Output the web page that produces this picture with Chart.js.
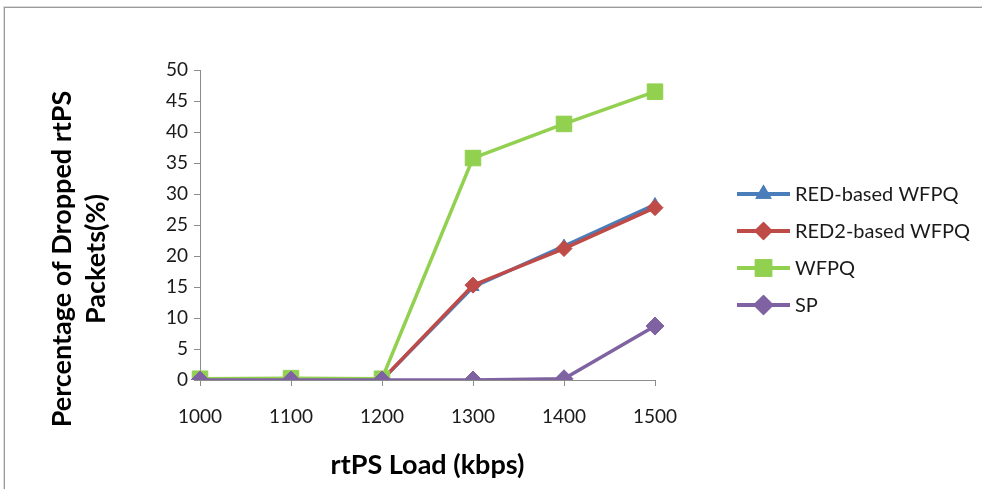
<!DOCTYPE html>
<html>
<head>
<meta charset="utf-8">
<script src="https://cdn.jsdelivr.net/npm/chart.js@4.4.1/dist/chart.umd.min.js"></script>
<style>
  html, body { margin: 0; padding: 0; background: #fff; }
  #wrap { position: relative; width: 982px; height: 489px; overflow: hidden; }
  #frame { position: absolute; left: 4px; top: 7px; width: 990px; height: 500px;
           border: 1px solid #9a9a9a; box-shadow: 0 0 0 1px #dcdcdc; }
  canvas { position: absolute; left: 0; top: 0; }
</style>
</head>
<body>
<div id="wrap">
  <div id="frame"></div>
  <canvas id="chart" width="982" height="489"></canvas>
</div>
<script>
const loads = ["1000", "1100", "1200", "1300", "1400", "1500"];
const redWfpq = [0, 0, 0, 15.0, 21.6, 28.3];
const red2Wfpq = [0, 0, 0, 15.3, 21.2, 27.8];
const wfpq = [0.2, 0.3, 0.2, 35.8, 41.3, 46.5];
const sp = [0, 0, 0, 0, 0.2, 8.7];
const yTicks = [0, 5, 10, 15, 20, 25, 30, 35, 40, 45, 50];

const FONT = "Lato, 'Open Sans', sans-serif";
const AXIS = "#8c8c8c";

// legend drawn to the right, line sample + marker like Excel
const sideLegend = {
  id: "sideLegend",
  afterDraw(chart) {
    const ctx = chart.ctx;
    const x0 = 737, x1 = 790;
    let y = 194;
    chart.data.datasets.forEach((ds) => {
      ctx.save();
      ctx.strokeStyle = ds.borderColor;
      ctx.lineWidth = 4;
      ctx.beginPath();
      ctx.moveTo(x0, y);
      ctx.lineTo(x1, y);
      ctx.stroke();
      Chart.helpers.drawPoint(ctx, {
        pointStyle: ds.pointStyle,
        radius: ds.pointRadius - 1.5,
        borderWidth: 1,
        rotation: 0,
      }, (x0 + x1) / 2, y);
      ctx.fillStyle = ds.borderColor;
      ctx.strokeStyle = ds.borderColor;
      ctx.fill();
      ctx.stroke();
      ctx.fillStyle = "#1a1a1a";
      ctx.font = "20px " + FONT;
      ctx.textBaseline = "middle";
      ctx.textAlign = "left";
      ctx.fillText(ds.label, x1 + 5, y + 1);
      ctx.restore();
      y += 37;
    });
  },
};

// y axis title (two lines, rotated)
const yTitle = {
  id: "yTitle",
  afterDraw(chart) {
    const ctx = chart.ctx;
    ctx.save();
    ctx.font = "bold 27px " + FONT;
    ctx.fillStyle = "#000";
    ctx.textAlign = "center";
    ctx.textBaseline = "middle";
    ctx.translate(62, 259);
    ctx.rotate(-Math.PI / 2);
    ctx.fillText("Percentage of Dropped rtPS", 0, 0);
    ctx.fillText("Packets(%)", 0, 34);
    ctx.restore();
  },
};

function series(label, data, color, style, radius, order) {
  return {
    label: label,
    data: data,
    borderColor: color,
    backgroundColor: color,
    pointBackgroundColor: color,
    pointBorderColor: color,
    pointStyle: style,
    pointRadius: radius,
    pointBorderWidth: 1,
    borderWidth: 3.5,
    tension: 0,
    order: order,
  };
}

new Chart(document.getElementById("chart"), {
  type: "line",
  data: {
    labels: loads,
    datasets: [
      series("RED-based WFPQ", redWfpq, "#4a7ebb", "triangle", 7, 4),
      series("RED2-based WFPQ", red2Wfpq, "#be4b48", "rectRot", 8, 3),
      series("WFPQ", wfpq, "#92d050", "rect", 11, 2),
      series("SP", sp, "#7f62a1", "rectRot", 9, 1),
    ],
  },
  options: {
    responsive: false,
    animation: false,
    layout: { padding: { top: 70, right: 327, left: 0, bottom: 0 } },
    plugins: { legend: { display: false }, tooltip: { enabled: false } },
    scales: {
      x: {
        offset: false,
        grid: { drawOnChartArea: false, drawTicks: true, tickLength: 6, color: AXIS },
        border: { color: AXIS, width: 1 },
        ticks: { color: "#1a1a1a", font: { family: FONT, size: 19 }, padding: 19, maxRotation: 0 },
        title: {
          display: true,
          text: "rtPS Load (kbps)",
          color: "#000",
          font: { family: FONT, size: 27, weight: "bold" },
          padding: { top: 8, bottom: 8 },
        },
        afterFit(scale) { scale.height = 109; },
      },
      y: {
        min: 0,
        max: 50,
        grid: { drawOnChartArea: false, drawTicks: true, tickLength: 6, color: AXIS },
        border: { color: AXIS, width: 1 },
        afterBuildTicks(scale) { scale.ticks = yTicks.map((v) => ({ value: v })); },
        ticks: { color: "#1a1a1a", font: { family: FONT, size: 19 }, padding: 6 },
        afterFit(scale) { scale.width = 200; },
      },
    },
  },
  plugins: [sideLegend, yTitle],
});
</script>
</body>
</html>
